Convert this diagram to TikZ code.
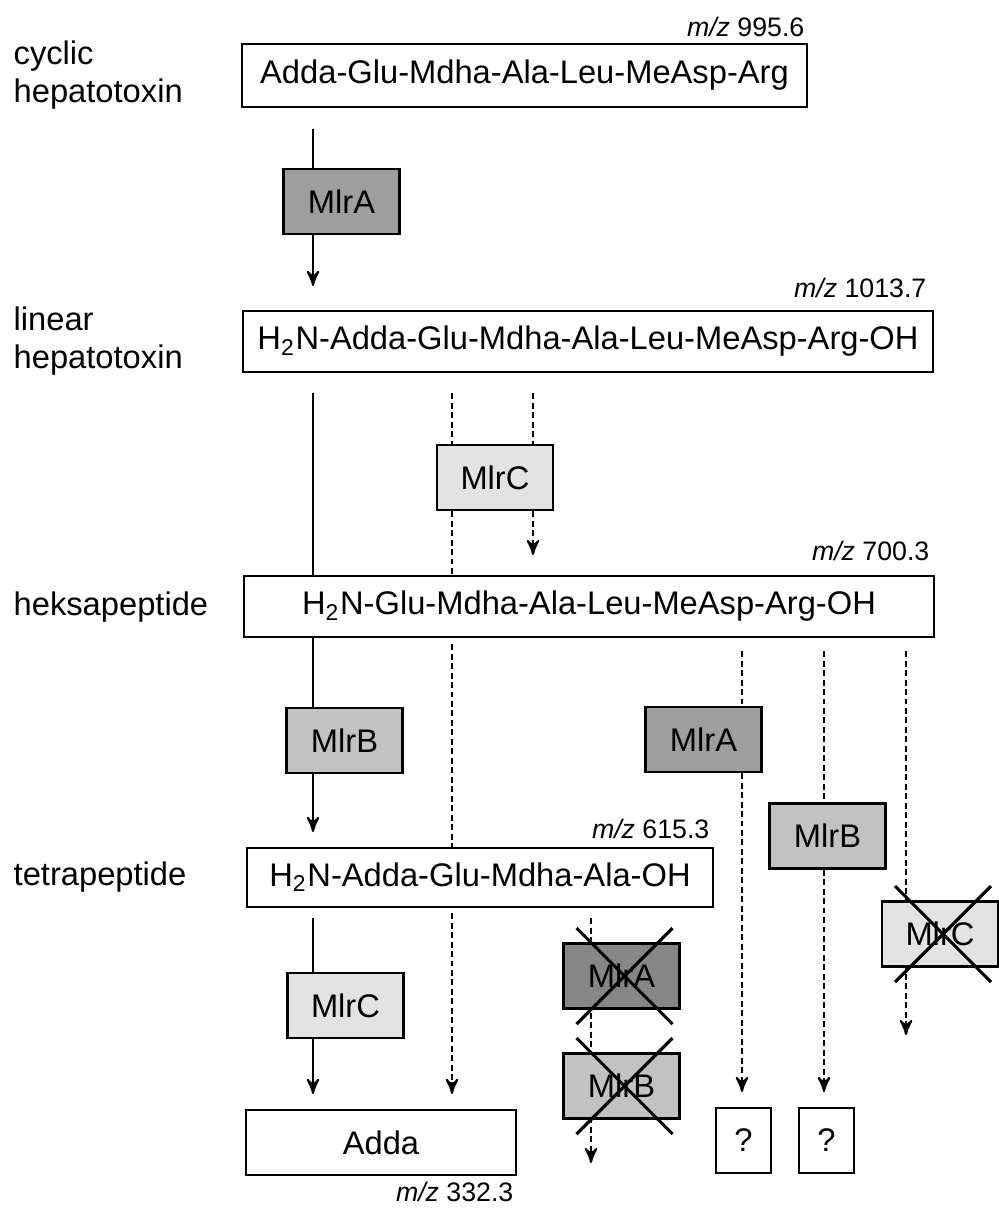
\documentclass[tikz,border=0pt]{standalone}
\usepackage{fontspec}
\setmainfont{Liberation Sans}
\usepackage{tikz}
\usetikzlibrary{arrows}
\definecolor{mlrAfill}{gray}{0.62}
\definecolor{mlrBfill}{gray}{0.76}
\definecolor{mlrCfill}{gray}{0.89}

\begin{document}
\begin{tikzpicture}[>=stealth', x=0.1mm, y=-0.1mm,
  every node/.style={font=\fontsize{9.3}{11}\selectfont, inner sep=0pt},
  compound/.style={draw, line width=0.6pt, fill=white},
  enzyme/.style={draw, line width=0.6pt, minimum width=11.6mm, minimum height=6.5mm},
  qbox/.style={draw, line width=0.6pt, minimum width=5.5mm, minimum height=6.5mm},
  mz/.style={anchor=base east, font=\fontsize{7.6}{9}\selectfont},
  stage/.style={anchor=west, align=left},
  solidflow/.style={line width=0.6pt},
  dashflow/.style={line width=0.6pt, dash pattern=on 1.7pt off 1pt},
  cross/.style={line width=0.9pt}]

  \useasboundingbox (0,0) rectangle (999,1208);

  % compounds
  \node[compound, minimum width=56.5mm, minimum height=6.3mm] (cyc) at (524.5,75.5) {Adda-Glu-Mdha-Ala-Leu-MeAsp-Arg};
  \node[compound, minimum width=69mm, minimum height=6.1mm] (lin) at (588,341.5) {H\textsubscript{2}N-Adda-Glu-Mdha-Ala-Leu-MeAsp-Arg-OH};
  \node[compound, minimum width=69mm, minimum height=6.1mm] (hex) at (589,606.5) {H\textsubscript{2}N-Glu-Mdha-Ala-Leu-MeAsp-Arg-OH};
  \node[compound, minimum width=46.6mm, minimum height=5.9mm] (tet) at (480,877.5) {H\textsubscript{2}N-Adda-Glu-Mdha-Ala-OH};
  \node[compound, minimum width=27mm, minimum height=6.5mm] (adda) at (381,1142.5) {Adda};
  \node[qbox] (q1) at (743.5,1140.5) {?};
  \node[qbox] (q2) at (826.5,1140.5) {?};

  % m/z values
  \node[mz] (mzCyc) at (805,36) {\textit{m/z} 995.6};
  \node[mz] (mzLin) at (927,297) {\textit{m/z} 1013.7};
  \node[mz] (mzHex) at (930,560) {\textit{m/z} 700.3};
  \node[mz] (mzTet) at (710,838) {\textit{m/z} 615.3};
  \node[mz] (mzAdda) at (514,1201) {\textit{m/z} 332.3};

  % stage labels
  \node[stage] (sCyc) at (13,75) {cyclic\\hepatotoxin};
  \node[stage] (sLin) at (13,341) {linear\\hepatotoxin};
  \node[stage] (sHex) at (13,607) {heksapeptide};
  \node[stage] (sTet) at (13,877) {tetrapeptide};

  % columns
  \coordinate (colL) at (313,0);
  \coordinate (colD) at (452,0);
  \coordinate (colE) at (533,0);
  \coordinate (colX) at (591,0);
  \coordinate (colQa) at (742,0);
  \coordinate (colQb) at (824,0);
  \coordinate (colR) at (906,0);
  \coordinate (endE) at (533,555);
  \coordinate (endX) at (591,1163);
  \coordinate (endR) at (906,1035);

  % blocked paths, behind the crossed boxes
  \draw[dashflow,->,shorten <=1mm] (tet.south -| colX) -- (endX);
  \draw[dashflow,->,shorten <=1.3mm] (hex.south -| colR) -- (endR);

  % enzymes
  \node[enzyme, fill=mlrAfill] (e1) at (341.5,201.5) {MlrA};
  \node[enzyme, fill=mlrCfill] (e2) at (495,477.5) {MlrC};
  \node[enzyme, fill=mlrBfill] (e3) at (344.5,740.5) {MlrB};
  \node[enzyme, fill=mlrAfill] (e4) at (703.5,739.5) {MlrA};
  \node[enzyme, fill=mlrBfill] (e5) at (827.5,836) {MlrB};
  \node[enzyme, fill=mlrCfill] (e6) at (345.5,1005.5) {MlrC};
  \node[enzyme, fill=mlrAfill!85!black] (e7) at (621.5,976) {MlrA};
  \node[enzyme, fill=mlrBfill] (e8) at (621.5,1086) {MlrB};
  \node[enzyme, fill=mlrCfill] (e9) at (940,934) {MlrC};

  % crossed out
  \foreach \e in {e7,e8,e9}
    \draw[cross] ([shift={(-45,-48)}]\e.center) -- ([shift={(51,48)}]\e.center)
                 ([shift={(51,-48)}]\e.center) -- ([shift={(-45,48)}]\e.center);

  % main route
  \draw[solidflow,shorten <=2.1mm] (cyc.south -| colL) -- (e1.north -| colL);
  \draw[solidflow,->,shorten >=2.4mm] (e1.south -| colL) -- (lin.north -| colL);
  \draw[solidflow,shorten <=2mm] (lin.south -| colL) -- (hex.north -| colL);
  \draw[solidflow] (hex.south -| colL) -- (e3.north -| colL);
  \draw[solidflow,->,shorten >=1.5mm] (e3.south -| colL) -- (tet.north -| colL);
  \draw[solidflow,shorten <=1mm] (tet.south -| colL) -- (e6.north -| colL);
  \draw[solidflow,->,shorten >=1.5mm] (e6.south -| colL) -- (adda.north -| colL);

  % route via MlrC
  \draw[dashflow,shorten <=2mm] (lin.south -| colD) -- (e2.north -| colD);
  \draw[dashflow] (e2.south -| colD) -- (hex.north -| colD);
  \draw[dashflow,shorten <=0.6mm] (hex.south -| colD) -- (tet.north -| colD);
  \draw[dashflow,->,shorten <=0.5mm,shorten >=1.5mm] (tet.south -| colD) -- (adda.north -| colD);
  \draw[dashflow,shorten <=2mm] (lin.south -| colE) -- (e2.north -| colE);
  \draw[dashflow,->] (e2.south -| colE) -- (endE);

  % side routes
  \draw[dashflow,shorten <=1.3mm] (hex.south -| colQa) -- (e4.north -| colQa);
  \draw[dashflow,->,shorten >=1.5mm] (e4.south -| colQa) -- (q1.north -| colQa);
  \draw[dashflow,shorten <=1.3mm] (hex.south -| colQb) -- (e5.north -| colQb);
  \draw[dashflow,->,shorten >=1.5mm] (e5.south -| colQb) -- (q2.north -| colQb);

\end{tikzpicture}
\end{document}
